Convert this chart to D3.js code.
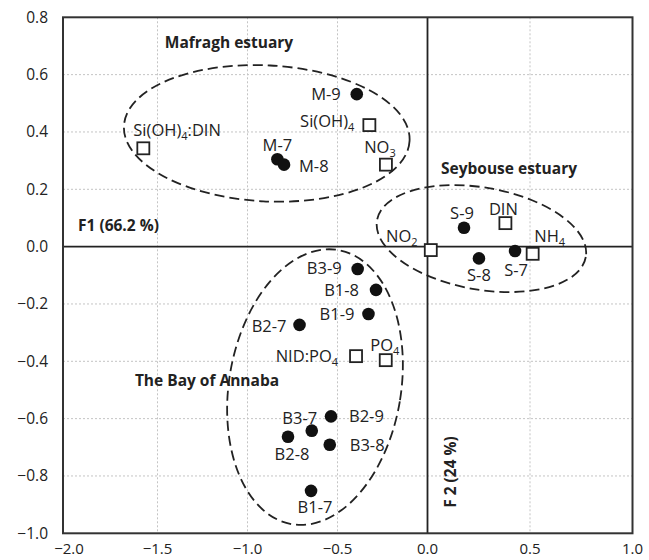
<!DOCTYPE html>
<html>
<head>
<meta charset="utf-8">
<script src="https://cdn.jsdelivr.net/npm/d3@7"></script>
<style>
  body { margin: 0; background: #fff; }
  text { font-family: "Open Sans", sans-serif; fill: #222; }
</style>
</head>
<body>
<div id="chart"></div>
<script>
// sampling sites (filled dots)
const siteNames = ['M-9', 'M-7', 'M-8', 'S-9', 'S-8', 'S-7', 'B3-9', 'B1-8', 'B1-9', 'B2-7', 'B2-9', 'B3-7', 'B2-8', 'B3-8', 'B1-7'];
const siteF1 = [-0.393, -0.834, -0.797, 0.178, 0.251, 0.427, -0.388, -0.286, -0.328, -0.711, -0.536, -0.643, -0.775, -0.543, -0.647];
const siteF2 = [0.532, 0.305, 0.286, 0.066, -0.041, -0.015, -0.078, -0.151, -0.235, -0.273, -0.592, -0.642, -0.663, -0.691, -0.852];

// variables (open squares), digits are drawn as subscripts
const varNames = ['Si(OH)4:DIN', 'Si(OH)4', 'NO3', 'DIN', 'NO2', 'NH4', 'NID:PO4', 'PO4'];
const varF1 = [-1.575, -0.323, -0.231, 0.380, 0.016, 0.513, -0.397, -0.232];
const varF2 = [0.343, 0.424, 0.286, 0.082, -0.012, -0.025, -0.382, -0.396];

const xTicks = [-2.0, -1.5, -1.0, -0.5, 0.0, 0.5, 1.0];
const yTicks = [-1.0, -0.8, -0.6, -0.4, -0.2, 0.0, 0.2, 0.4, 0.6, 0.8];

// label placement: [anchor, dx, dy] relative to the marker
const labelPos = {
  'M-9': ['end', -16, 0], 'M-7': ['middle', 0, -14], 'M-8': ['start', 15, 2],
  'S-9': ['middle', -2, -14], 'S-8': ['middle', 0, 17], 'S-7': ['middle', 1, 20],
  'B3-9': ['end', -16, 0], 'B1-8': ['end', -17, 1], 'B1-9': ['end', -14, 0],
  'B2-7': ['end', -13, 2], 'B2-9': ['start', 18, 0], 'B3-7': ['middle', -12, -12],
  'B2-8': ['middle', 4, 18], 'B3-8': ['start', 20, 1], 'B1-7': ['middle', 4, 17],
  'Si(OH)4:DIN': ['start', -10, -18], 'Si(OH)4': ['end', -15, -4], 'NO3': ['middle', -6, -17],
  'DIN': ['middle', -2, -14], 'NO2': ['middle', -29, -14], 'NH4': ['middle', 17, -17],
  'NID:PO4': ['end', -18, 0], 'PO4': ['middle', -1, -15]
};

// dashed group outlines: centre in data units, radii in px, rotation in degrees
const groups = [
  { name: 'Mafragh estuary', cx: -0.893, cy: 0.395, rx: 143, ry: 68, rot: 3, tx: 229, ty: 42 },
  { name: 'Seybouse estuary', cx: 0.263, cy: 0.028, rx: 106, ry: 51, rot: 10, tx: 509, ty: 168 },
  { name: 'The Bay of Annaba', cx: -0.625, cy: -0.490, rx: 86, ry: 139, rot: 9.5, tx: 207, ty: 380 }
];

const width = 649, height = 560;
const svg = d3.select('#chart').append('svg')
  .attr('width', width)
  .attr('height', height);

// the original picture is stretched a little differently on both sides of zero
const x = d3.scaleLinear().domain([-2, -1.5, 0, 1]).range([63, 157.5, 427.5, 632.5]);
const y = d3.scaleLinear().domain([-1, 0.8]).range([533.3, 17.3]);

// gridlines
svg.append('g').selectAll('line')
  .data(xTicks.filter(d => d > -2 && d < 1 && d !== 0))
  .enter().append('line')
  .attr('x1', d => x(d)).attr('x2', d => x(d))
  .attr('y1', y(0.8)).attr('y2', y(-1))
  .style('stroke', '#c4c4c4').style('stroke-dasharray', '2,2');
svg.append('g').selectAll('line')
  .data(yTicks.filter(d => d > -1 && d < 0.8 && d !== 0))
  .enter().append('line')
  .attr('y1', d => y(d)).attr('y2', d => y(d))
  .attr('x1', x(-2)).attr('x2', x(1))
  .style('stroke', '#c4c4c4').style('stroke-dasharray', '2,2');

// zero lines
svg.append('line').attr('x1', x(0)).attr('x2', x(0)).attr('y1', y(0.8)).attr('y2', y(-1))
  .style('stroke', '#222').style('stroke-width', 1.8);
svg.append('line').attr('x1', x(-2)).attr('x2', x(1)).attr('y1', y(0)).attr('y2', y(0))
  .style('stroke', '#222').style('stroke-width', 1.8);

// frame
svg.append('rect')
  .attr('x', x(-2)).attr('y', y(0.8))
  .attr('width', x(1) - x(-2)).attr('height', y(-1) - y(0.8))
  .style('fill', 'none').style('stroke', '#333').style('stroke-width', 2);

// tick labels
svg.append('g').selectAll('text')
  .data(yTicks)
  .enter().append('text')
  .attr('x', 48).attr('y', d => y(d) + 5.5)
  .attr('text-anchor', 'end')
  .style('font-size', '15.5px')
  .text(d => d3.format('.1f')(d));
svg.append('g').selectAll('text')
  .data(xTicks)
  .enter().append('text')
  .attr('x', d => x(d) + (d === -2 ? 6 : 0)).attr('y', 554)
  .attr('text-anchor', 'middle')
  .style('font-size', '15px')
  .text(d => d3.format('.1f')(d));

// group ellipses
svg.append('g').selectAll('ellipse')
  .data(groups)
  .enter().append('ellipse')
  .attr('rx', d => d.rx).attr('ry', d => d.ry)
  .attr('transform', d => `translate(${x(d.cx)}, ${y(d.cy)}) rotate(${d.rot})`)
  .style('fill', 'none').style('stroke', '#222')
  .style('stroke-width', 1.8).style('stroke-dasharray', '10,5');

// group names and axis titles
svg.append('g').selectAll('text')
  .data(groups)
  .enter().append('text')
  .attr('x', d => d.tx).attr('y', d => d.ty + 5.5)
  .attr('text-anchor', 'middle')
  .style('font-size', '15.5px').style('font-weight', 'bold')
  .text(d => d.name);
svg.append('text')
  .attr('x', 78).attr('y', 231)
  .style('font-size', '15.5px').style('font-weight', 'bold')
  .text('F1 (66.2 %)');
svg.append('text')
  .attr('transform', 'translate(456, 472) rotate(-90)')
  .attr('text-anchor', 'middle')
  .style('font-size', '15.5px').style('font-weight', 'bold')
  .text('F 2 (24 %)');

// site dots
const sites = siteNames.map((n, i) => ({ name: n, f1: siteF1[i], f2: siteF2[i] }));
svg.append('g').selectAll('circle')
  .data(sites)
  .enter().append('circle')
  .attr('cx', d => x(d.f1)).attr('cy', d => y(d.f2))
  .attr('r', 6.3)
  .style('fill', '#111');

// variable squares
const vars = varNames.map((n, i) => ({ name: n, f1: varF1[i], f2: varF2[i] }));
const sq = 12;
svg.append('g').selectAll('rect')
  .data(vars)
  .enter().append('rect')
  .attr('x', d => x(d.f1) - sq / 2).attr('y', d => y(d.f2) - sq / 2)
  .attr('width', sq).attr('height', sq)
  .style('fill', '#fff').style('stroke', '#222').style('stroke-width', 1.8);

// point labels
function addLabel(d, isVar) {
  const p = labelPos[d.name];
  const t = svg.append('text')
    .attr('x', x(d.f1) + p[1])
    .attr('y', y(d.f2) + p[2] + 5.5)
    .attr('text-anchor', p[0])
    .style('font-size', '16.5px');
  if (!isVar) {
    t.text(d.name);
    return;
  }
  // split so that digits become subscripts
  let shift = 0;
  d.name.split(/(\d)/).filter(s => s.length).forEach(s => {
    if (/\d/.test(s)) {
      t.append('tspan').attr('dy', 4).style('font-size', '11px').text(s);
      shift = -4;
    } else {
      t.append('tspan').attr('dy', shift).text(s);
      shift = 0;
    }
  });
}
sites.forEach(d => addLabel(d, false));
vars.forEach(d => addLabel(d, true));
</script>
</body>
</html>
